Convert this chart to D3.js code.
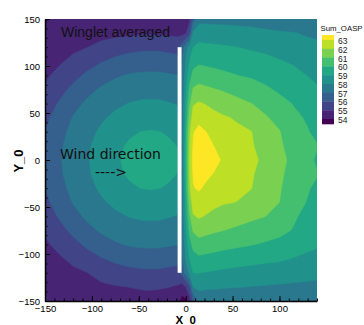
<!DOCTYPE html>
<html>
<head>
<meta charset="utf-8">
<script src="https://cdn.jsdelivr.net/npm/d3@7"></script>
<style>
  body { margin: 0; background: #fff; }
  svg { display: block; font-family: "Liberation Sans", Arial, sans-serif; }
</style>
</head>
<body>
<svg id="chart" width="364" height="325"></svg>
<script>
// grid columns (X_0) and rows (Y_0) the values below are read at
const xGrid = [-150, -135, -120, -105, -90, -75, -60, -48, -38, -28, -18, -9, -4, 0, 4, 8, 14, 22, 30, 40, 55, 70, 85, 100, 115, 130, 140];
const yGrid = [150, 135, 120, 105, 90, 75, 60, 45, 30, 15, 0, -15, -30, -45, -60, -75, -90, -105, -120, -135, -150];

// Sum_OASPL, one row per yGrid entry (top to bottom)
const oasplRows = [
  [53.95, 54.12, 54.26, 54.38, 54.49, 54.57, 54.62, 54.65, 54.65, 54.65, 54.63, 54.6, 54.2, 54.4, 54.8, 56.5, 57.7, 57.73, 57.71, 57.7, 57.66, 57.62, 57.5, 57.4, 57.32, 57.15, 57.05],
  [54.08, 54.25, 54.4, 54.54, 54.65, 54.74, 54.81, 54.87, 54.9, 54.87, 54.82, 54.78, 54.7, 54.9, 55.6, 58.2, 58.51, 58.49, 58.46, 58.42, 58.36, 58.29, 58.19, 58.1, 58.04, 57.89, 57.8],
  [54.49, 54.67, 54.84, 54.99, 55.3, 55.54, 55.71, 55.79, 55.81, 55.79, 55.73, 55.64, 56.5, 57.5, 58.4, 59.0, 59.24, 59.19, 59.15, 59.1, 59.0, 58.87, 58.76, 58.59, 58.46, 58.29, 58.22],
  [54.69, 54.89, 55.18, 55.59, 55.94, 56.22, 56.41, 56.5, 56.52, 56.5, 56.43, 56.34, 56.9, 58.1, 59.0, 59.6, 59.82, 59.75, 59.69, 59.62, 59.51, 59.39, 59.25, 59.06, 58.88, 58.63, 58.53],
  [54.87, 55.22, 55.72, 56.18, 56.58, 56.89, 57.08, 57.15, 57.17, 57.15, 57.09, 57.01, 57.0, 58.4, 59.6, 60.3, 60.53, 60.42, 60.32, 60.19, 60.01, 59.88, 59.69, 59.46, 59.25, 58.98, 58.84],
  [55.1, 55.69, 56.23, 56.73, 57.12, 57.38, 57.56, 57.64, 57.67, 57.64, 57.58, 57.49, 57.1, 58.7, 60.2, 61.1, 61.31, 61.17, 61.05, 60.9, 60.65, 60.44, 60.15, 59.86, 59.61, 59.29, 59.08],
  [55.47, 56.09, 56.69, 57.17, 57.52, 57.82, 58.03, 58.13, 58.15, 58.13, 58.05, 57.95, 57.2, 59.0, 60.8, 61.9, 62.1, 61.94, 61.77, 61.58, 61.28, 61.01, 60.68, 60.28, 59.96, 59.6, 59.31],
  [55.78, 56.43, 57.05, 57.48, 57.87, 58.2, 58.45, 58.57, 58.61, 58.57, 58.48, 58.35, 57.2, 59.2, 61.3, 62.5, 62.78, 62.48, 62.26, 62.1, 61.9, 61.52, 61.09, 60.71, 60.17, 59.91, 59.55],
  [56.0, 56.69, 57.26, 57.72, 58.15, 58.53, 58.84, 59.01, 59.05, 59.01, 58.88, 58.71, 57.3, 59.45, 61.8, 62.95, 63.2, 63.0, 62.63, 62.36, 62.17, 62.02, 61.33, 61.04, 60.36, 60.05, 59.78],
  [56.14, 56.85, 57.39, 57.88, 58.33, 58.76, 59.14, 59.35, 59.43, 59.35, 59.18, 58.98, 57.3, 59.55, 61.95, 63.1, 63.4, 63.25, 63.0, 62.63, 62.36, 62.1, 61.56, 61.16, 60.55, 60.12, 60.05],
  [56.19, 56.9, 57.43, 57.93, 58.39, 58.85, 59.25, 59.55, 59.8, 59.55, 59.3, 59.08, 57.3, 59.6, 62.0, 63.3, 63.6, 63.5, 63.25, 62.9, 62.56, 62.2, 61.8, 61.28, 60.74, 60.19, 59.9],
  [56.14, 56.85, 57.39, 57.88, 58.33, 58.76, 59.14, 59.35, 59.43, 59.35, 59.18, 58.98, 57.3, 59.55, 61.95, 63.1, 63.35, 63.19, 62.96, 62.63, 62.37, 62.1, 61.6, 61.19, 60.59, 60.12, 60.05],
  [56.0, 56.69, 57.26, 57.72, 58.15, 58.53, 58.84, 59.01, 59.05, 59.01, 58.88, 58.71, 57.3, 59.45, 61.8, 62.95, 63.1, 62.83, 62.59, 62.36, 62.18, 62.02, 61.4, 61.09, 60.44, 60.06, 59.86],
  [55.78, 56.43, 57.05, 57.48, 57.87, 58.2, 58.45, 58.57, 58.61, 58.57, 58.48, 58.35, 57.2, 59.2, 61.3, 62.5, 62.64, 62.39, 62.22, 62.08, 61.98, 61.64, 61.2, 61.0, 60.29, 59.96, 59.67],
  [55.47, 56.09, 56.69, 57.17, 57.52, 57.82, 58.03, 58.13, 58.15, 58.13, 58.05, 57.95, 57.2, 59.0, 60.8, 61.9, 62.1, 61.93, 61.76, 61.59, 61.4, 61.18, 61.0, 60.62, 60.13, 59.7, 59.47],
  [55.1, 55.69, 56.23, 56.73, 57.12, 57.38, 57.56, 57.64, 57.67, 57.64, 57.58, 57.49, 57.1, 58.7, 60.2, 61.1, 61.39, 61.25, 61.13, 61.0, 60.81, 60.64, 60.45, 60.23, 59.94, 59.44, 59.28],
  [54.87, 55.22, 55.72, 56.18, 56.58, 56.89, 57.08, 57.15, 57.17, 57.15, 57.09, 57.01, 57.0, 58.4, 59.6, 60.3, 60.61, 60.51, 60.41, 60.3, 60.16, 60.04, 59.88, 59.75, 59.45, 59.18, 59.09],
  [54.69, 54.89, 55.18, 55.59, 55.94, 56.22, 56.41, 56.5, 56.52, 56.5, 56.43, 56.34, 56.9, 58.1, 59.0, 59.6, 59.81, 59.73, 59.66, 59.56, 59.43, 59.31, 59.21, 59.13, 58.96, 58.84, 58.76],
  [54.49, 54.67, 54.84, 54.99, 55.3, 55.54, 55.71, 55.79, 55.81, 55.79, 55.73, 55.64, 56.3, 57.3, 58.2, 59.0, 59.02, 58.95, 58.88, 58.8, 58.71, 58.63, 58.57, 58.51, 58.42, 58.35, 58.3],
  [54.28, 54.45, 54.6, 54.74, 54.85, 54.94, 55.01, 55.07, 55.1, 55.07, 55.02, 54.9, 54.6, 55.0, 55.8, 58.0, 58.22, 58.16, 58.13, 58.09, 58.03, 57.98, 57.93, 57.87, 57.82, 57.77, 57.72],
  [54.05, 54.22, 54.36, 54.48, 54.59, 54.67, 54.72, 54.72, 54.7, 54.65, 54.58, 54.4, 53.6, 53.8, 54.6, 56.0, 57.4, 57.33, 57.31, 57.28, 57.22, 57.16, 57.11, 57.05, 57.0, 56.95, 56.9]
];

const levels = [54, 55, 56, 57, 58, 59, 60, 61, 62, 63];
const xTicks = [-150, -100, -50, 0, 50, 100];
const yTicks = [-150, -100, -50, 0, 50, 100, 150];
const wallX = [-8.6, -4.4];
const wallY = [-120, 120];

const svg = d3.select('#chart');
svg.append('rect').attr('width', 364).attr('height', 325).attr('fill', '#fff');

const x = d3.scaleLinear().domain([-150, 140]).range([45, 317]);
const y = d3.scaleLinear().domain([-150, 150]).range([301, 19]);

// grid index -> data coordinate (columns are not evenly spaced)
const nx = xGrid.length, ny = yGrid.length;
const colToX = d3.scaleLinear().domain(d3.range(nx)).range(xGrid).clamp(true);
const rowToY = d3.scaleLinear().domain(d3.range(ny)).range(yGrid).clamp(true);

const proj = d3.geoTransform({
  point(px, py) {
    this.stream.point(x(colToX(px - 0.5)), y(rowToY(py - 0.5)));
  }
});
const path = d3.geoPath(proj);

const bandColor = d3.range(levels.length + 1).map(i => d3.interpolateViridis(i / levels.length));

const values = oasplRows.flat();
const bands = d3.contours().size([nx, ny]).thresholds(levels)(values);

svg.append('clipPath').attr('id', 'plotclip')
  .append('rect')
  .attr('x', x(-150)).attr('y', y(150))
  .attr('width', x(140) - x(-150)).attr('height', y(-150) - y(150));

const field = svg.append('g').attr('clip-path', 'url(#plotclip)');

field.append('rect')
  .attr('x', x(-150)).attr('y', y(150))
  .attr('width', x(140) - x(-150)).attr('height', y(-150) - y(150))
  .attr('fill', bandColor[0]);

field.selectAll('path.band')
  .data(bands)
  .join('path')
  .attr('class', 'band')
  .attr('d', path)
  .attr('fill', (d, i) => bandColor[i + 1])
  .attr('stroke', (d, i) => bandColor[i + 1])
  .attr('stroke-width', 0.5);

// the winglet
field.append('rect')
  .attr('x', x(wallX[0])).attr('y', y(wallY[1]))
  .attr('width', x(wallX[1]) - x(wallX[0]))
  .attr('height', y(wallY[0]) - y(wallY[1]))
  .attr('fill', '#fff');

// axes, ticks drawn inward
const axisStyle = g => {
  g.selectAll('.domain').attr('stroke', '#000').attr('stroke-width', 1.5);
  g.selectAll('.tick line').attr('stroke', '#000').attr('stroke-width', 1);
  g.selectAll('.tick text').attr('fill', '#000').attr('font-size', 9.5)
    .attr('font-family', '"Liberation Sans", Arial, sans-serif');
};

svg.append('g')
  .attr('transform', `translate(0,${y(-150)})`)
  .call(d3.axisBottom(x).tickValues(d3.range(-150, 141, 10)).tickSize(-2.5).tickFormat(''))
  .call(g => g.select('.domain').remove())
  .call(axisStyle);
svg.append('g')
  .attr('transform', `translate(0,${y(-150)})`)
  .call(d3.axisBottom(x).tickValues(xTicks).tickSizeInner(-5).tickSizeOuter(0).tickPadding(4))
  .call(axisStyle);

svg.append('g')
  .attr('transform', `translate(${x(-150)},0)`)
  .call(d3.axisLeft(y).tickValues(d3.range(-150, 151, 10)).tickSize(-2.5).tickFormat(''))
  .call(g => g.select('.domain').remove())
  .call(axisStyle);
svg.append('g')
  .attr('transform', `translate(${x(-150)},0)`)
  .call(d3.axisLeft(y).tickValues(yTicks).tickSizeInner(-5).tickSizeOuter(0).tickPadding(5))
  .call(axisStyle);

svg.append('text')
  .attr('x', x(0)).attr('y', 323.5)
  .attr('text-anchor', 'middle')
  .attr('font-size', 11.5).attr('font-weight', 'bold')
  .text('X_0');

svg.append('text')
  .attr('transform', `translate(22.5,${y(0) + 1}) rotate(-90)`)
  .attr('text-anchor', 'middle')
  .attr('font-size', 13).attr('font-weight', 'bold')
  .text('Y_0');

// annotations
svg.append('text')
  .attr('x', 61).attr('y', 37)
  .attr('font-size', 14).attr('fill', '#111')
  .text('Winglet averaged');

svg.append('text')
  .attr('x', 60).attr('y', 159)
  .attr('font-family', '"DejaVu Sans", sans-serif')
  .attr('font-size', 14).attr('fill', '#111')
  .text('Wind direction');

svg.append('text')
  .attr('x', 95).attr('y', 177)
  .attr('font-family', '"DejaVu Sans", sans-serif')
  .attr('font-size', 14).attr('fill', '#111')
  .text('---->');

// legend
const legendY = d3.scaleLinear().domain([63, 54]).range([40, 119]);
const legend = svg.append('g');
legend.append('text')
  .attr('x', 320.5).attr('y', 31)
  .attr('font-size', 7.8).attr('fill', '#111')
  .text('Sum_OASP');

const swatchEdges = [legendY(63) - 5, ...levels.slice().reverse().map(v => legendY(v)), legendY(54) + 5];
legend.selectAll('rect.sw')
  .data(d3.range(levels.length + 1).reverse())
  .join('rect')
  .attr('class', 'sw')
  .attr('x', 322).attr('width', 12)
  .attr('y', (d, i) => swatchEdges[i])
  .attr('height', (d, i) => swatchEdges[i + 1] - swatchEdges[i] + 0.3)
  .attr('fill', d => bandColor[d]);

legend.selectAll('text.lv')
  .data(levels)
  .join('text')
  .attr('class', 'lv')
  .attr('x', 338).attr('y', d => legendY(d) + 1)
  .attr('dy', '0.35em')
  .attr('font-size', 8.5).attr('fill', '#222')
  .text(d => d);
</script>
</body>
</html>
